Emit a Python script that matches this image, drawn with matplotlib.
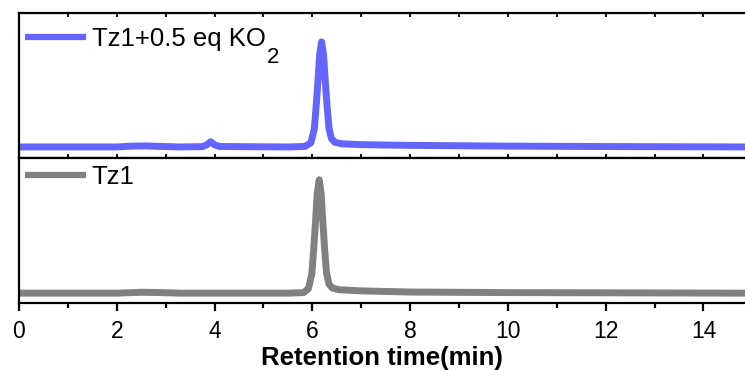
import numpy as np
import matplotlib.pyplot as plt
from matplotlib.ticker import MultipleLocator

plt.rcParams['font.family'] = ['Liberation Sans', 'DejaVu Sans']

# Tz1 + 0.5 eq KO2 trace (baseline 0, main peak 1)
t_ko2 = [0, 2.0, 2.3, 2.6, 2.9, 3.3, 3.75, 3.84, 3.92, 4.0, 4.1, 4.5, 5.5, 5.85,
         5.97, 6.04, 6.08, 6.12, 6.15, 6.19, 6.23, 6.26, 6.30, 6.34, 6.39, 6.46,
         6.6, 7.0, 8.0, 10.0, 12.0, 14.85]
y_ko2 = [0, 0, 0.008, 0.01, 0.005, 0, 0.003, 0.02, 0.05, 0.02, 0.005, 0.003, 0, 0.005,
         0.04, 0.17, 0.4, 0.66, 0.88, 1.0, 0.88, 0.66, 0.4, 0.18, 0.08, 0.045,
         0.03, 0.022, 0.015, 0.008, 0.004, 0]

# Tz1 trace
t_tz1 = [0, 2.0, 2.5, 2.8, 3.3, 5.5, 5.82, 5.92, 5.99, 6.03, 6.07, 6.10, 6.14, 6.18,
         6.21, 6.25, 6.29, 6.34, 6.41, 6.55, 7.0, 8.0, 10.0, 12.0, 14.85]
y_tz1 = [0, 0, 0.008, 0.006, 0, 0, 0.005, 0.04, 0.17, 0.4, 0.66, 0.88, 1.0, 0.88,
         0.66, 0.4, 0.18, 0.08, 0.045, 0.03, 0.02, 0.01, 0.005, 0.003, 0]

blue = '#6464ff'
gray = '#808080'

fig, (ax1, ax2) = plt.subplots(2, 1, sharex=True, figsize=(7.45, 3.7), dpi=100)
fig.subplots_adjust(left=0.0255, right=1.0, top=0.965, bottom=0.181, hspace=0)

ax1.plot(t_ko2, y_ko2, color=blue, lw=5, solid_joinstyle='round', solid_capstyle='butt',
         label='Tz1+0.5 eq KO')
ax2.plot(t_tz1, y_tz1, color=gray, lw=5, solid_joinstyle='round', solid_capstyle='butt',
         label='Tz1')

ax1.set_ylim(-0.105, 1.276)
ax2.set_ylim(-0.087, 1.192)
ax2.set_xlim(0, 14.85)

legs = []
for ax, ytop in ((ax1, 0.905), (ax2, 0.955)):
    ax.set_yticks([])
    ax.spines['right'].set_visible(False)
    for s in ('left', 'top', 'bottom'):
        ax.spines[s].set_linewidth(1.6)
    ax.xaxis.set_major_locator(MultipleLocator(2))
    ax.xaxis.set_minor_locator(MultipleLocator(1))
    leg = ax.legend(loc='upper left', bbox_to_anchor=(0.008, ytop), frameon=False,
                    fontsize=18.5, handlelength=2.4, handletextpad=0.2,
                    borderaxespad=0, borderpad=0)
    for h in leg.get_lines():
        h.set_linewidth(4.5)
    legs.append(leg)

ax1.tick_params(axis='x', which='both', direction='in', top=True, bottom=True,
                labelbottom=False, length=3, width=1.3)
ax2.tick_params(axis='x', which='both', top=False)
ax2.tick_params(axis='x', which='major', direction='out', bottom=True, length=5.5, width=1.6,
                labelsize=16.5, pad=7)
ax2.tick_params(axis='x', which='minor', direction='out', bottom=True, length=3.5, width=1.6)

ax2.set_xlabel('Retention time(min)', fontsize=18.5, fontweight='bold', labelpad=2)

# subscript of KO2, sitting well below the text baseline as in the original
fig.canvas.draw()
bb = legs[0].get_texts()[0].get_window_extent()
fig.text(bb.x1 + 1, bb.y0 + 4, '2', transform=None, ha='left', va='top', fontsize=16)

fig.savefig('out.png', dpi=100)
